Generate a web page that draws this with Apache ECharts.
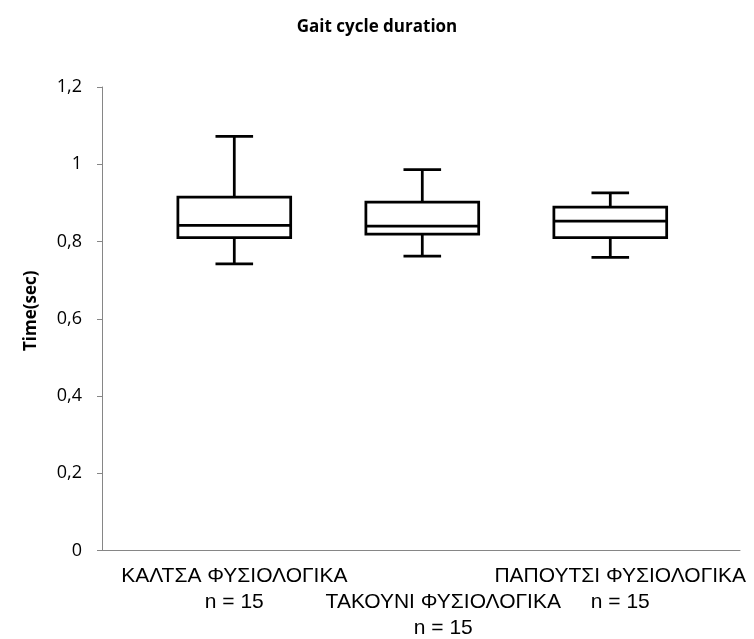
<!DOCTYPE html>
<html>
<head>
<meta charset="utf-8">
<script src="https://cdn.jsdelivr.net/npm/echarts@6/dist/echarts.min.js"></script>
<style>
  html, body { margin: 0; padding: 0; background: #ffffff; }
  #chart { width: 754px; height: 639px; }
</style>
</head>
<body>
<div id="chart"></div>
<script>
// Gait cycle duration per footwear condition (seconds)
const categories = ['ΚΑΛΤΣΑ ΦΥΣΙΟΛΟΓΙΚΑ', 'ΤΑΚΟΥΝΙ ΦΥΣΙΟΛΟΓΙΚΑ', 'ΠΑΠΟΥΤΣΙ ΦΥΣΙΟΛΟΓΙΚΑ'];
const sampleSizes = ['n = 15', 'n = 15', 'n = 15'];
const positions = [1, 2, 3];
const whiskerLow = [0.742, 0.762, 0.759];
const quartile1 = [0.810, 0.819, 0.810];
const medians = [0.842, 0.840, 0.853];
const quartile3 = [0.915, 0.902, 0.889];
const whiskerHigh = [1.072, 0.986, 0.926];

const boxData = positions.map((p, i) => [p, whiskerLow[i], quartile1[i], medians[i], quartile3[i], whiskerHigh[i]]);

const X_MIN = 0.2963;
const X_MAX = 3.69;
const BOX_W = 0.6;   // box width in x units
const CAP_W = 0.2;   // whisker cap width in x units
const STROKE = { stroke: '#000', lineWidth: 2.75, fill: 'none' };

function renderBox(params, api) {
  const x = api.value(0);
  const lo = api.coord([x, api.value(1)]);
  const q1 = api.coord([x, api.value(2)]);
  const md = api.coord([x, api.value(3)]);
  const q3 = api.coord([x, api.value(4)]);
  const hi = api.coord([x, api.value(5)]);
  const bw = api.size([BOX_W, 0])[0];
  const cw = api.size([CAP_W, 0])[0];
  const cx = q1[0];
  const line = (x1, y1, x2, y2) => ({ type: 'line', shape: { x1, y1, x2, y2 }, style: STROKE });
  return {
    type: 'group',
    children: [
      line(cx, hi[1], cx, q3[1]),
      line(cx, q1[1], cx, lo[1]),
      line(cx - cw / 2, hi[1], cx + cw / 2, hi[1]),
      line(cx - cw / 2, lo[1], cx + cw / 2, lo[1]),
      { type: 'rect', shape: { x: cx - bw / 2, y: q3[1], width: bw, height: q1[1] - q3[1] },
        style: { stroke: '#000', lineWidth: 2.75, fill: '#fff' } },
      line(cx - bw / 2, md[1], cx + bw / 2, md[1])
    ]
  };
}

// horizontal nudge (px) of each category caption
const labelShift = [0, 21, 10];
const labelRich = {};
labelShift.forEach((s, i) => {
  labelRich['c' + i] = {
    fontFamily: '"Liberation Sans", Arial, sans-serif',
    fontSize: 21,
    color: '#000',
    lineHeight: 26,
    padding: [0, 0, 0, s * 2]
  };
});

function captionFormatter(v) {
  const i = positions.indexOf(v);
  if (i < 0) return '';
  const tag = 'c' + i;
  const body = '{' + tag + '|' + categories[i] + '}\n{' + tag + '|' + sampleSizes[i] + '}';
  // the middle caption is staggered one line lower
  return i === 1 ? '{' + tag + '| }\n' + body : body;
}

function captionAxis(values, showLine) {
  return {
    type: 'value',
    position: 'bottom',
    min: X_MIN,
    max: X_MAX,
    axisLine: { show: showLine, onZero: false, lineStyle: { color: '#868686', width: 1 } },
    axisTick: { show: false },
    splitLine: { show: false },
    axisLabel: {
      customValues: values,
      hideOverlap: false,
      margin: 13,
      verticalAlign: 'top',
      formatter: captionFormatter,
      rich: labelRich
    }
  };
}

const chart = echarts.init(document.getElementById('chart'), null, { renderer: 'canvas' });
chart.setOption({
  animation: false,
  backgroundColor: '#ffffff',
  title: {
    text: 'Gait cycle duration',
    left: 'center',
    top: 14,
    textStyle: { fontFamily: '"Open Sans", sans-serif', fontWeight: 'bold', fontSize: 17, color: '#000' }
  },
  grid: { left: 102, right: 14, top: 87, bottom: 86, containLabel: false },
  xAxis: [
    captionAxis([positions[0], positions[2]], true),
    captionAxis([positions[1]], false)
  ],
  yAxis: {
    type: 'value',
    min: 0,
    max: 1.2,
    interval: 0.2,
    name: 'Time(sec)',
    nameLocation: 'middle',
    nameGap: 62,
    nameRotate: 90,
    nameTextStyle: { fontFamily: '"Open Sans", sans-serif', fontWeight: 'bold', fontSize: 17, color: '#000', padding: [0, 0, 0, 16] },
    axisLine: { show: true, lineStyle: { color: '#868686', width: 1 } },
    axisTick: { show: true, length: 5, lineStyle: { color: '#868686' } },
    splitLine: { show: false },
    axisLabel: {
      margin: 20,
      fontFamily: '"Open Sans", sans-serif',
      fontSize: 18,
      color: '#000',
      formatter: (v) => String(Math.round(v * 10) / 10).replace('.', ',')
    }
  },
  series: [{
    type: 'custom',
    xAxisIndex: 0,
    renderItem: renderBox,
    encode: { x: 0, y: [1, 2, 3, 4, 5] },
    data: boxData
  }]
});
</script>
</body>
</html>
